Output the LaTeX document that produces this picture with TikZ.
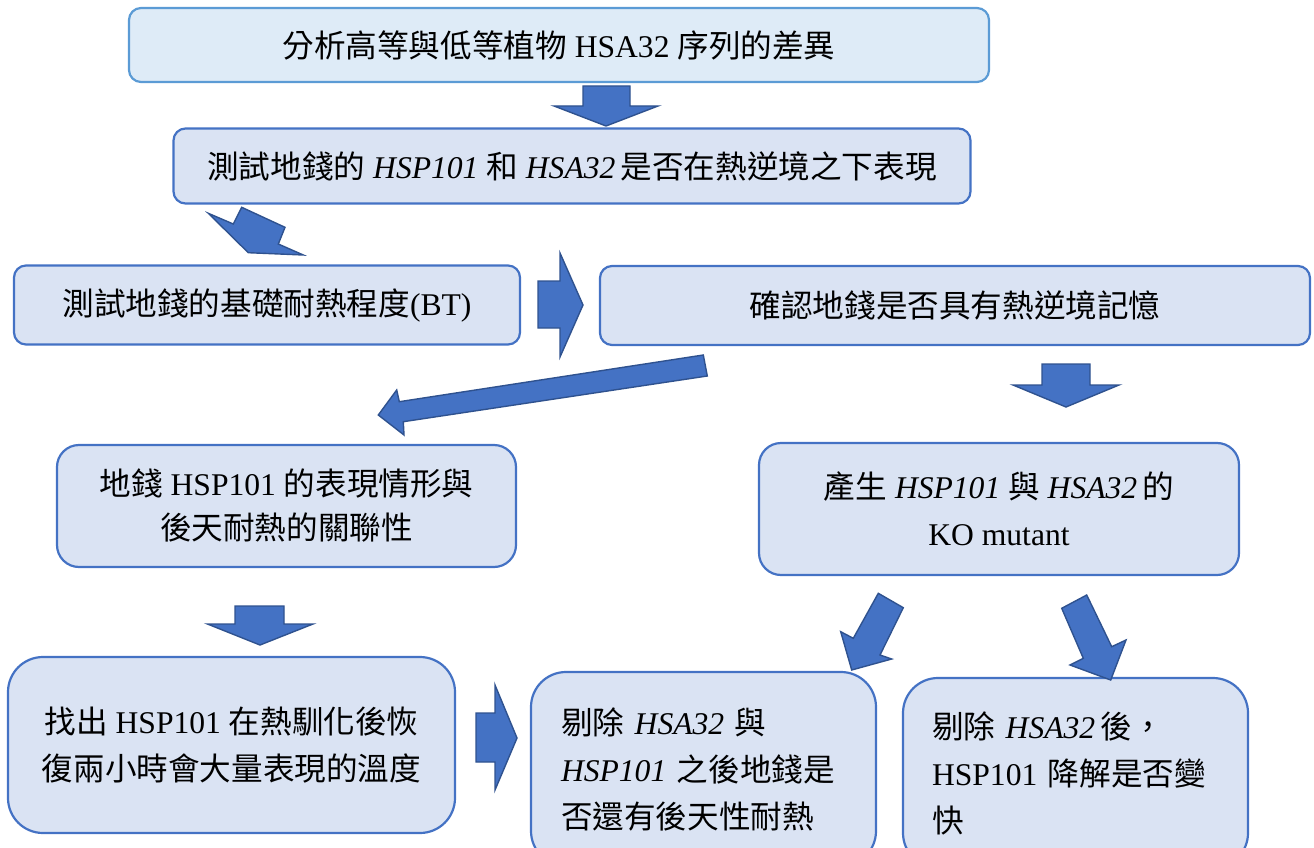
\documentclass[tikz,border=0pt]{standalone}
\usepackage{fontspec}
\setmainfont{Liberation Serif}
\newfontfamily\cjk{Noto Sans CJK TC}
\newcommand\zh[1]{{\cjk #1}}
\definecolor{boxfill}{HTML}{DAE3F3}
\definecolor{boxline}{HTML}{4472C4}
\definecolor{topfill}{HTML}{DEEBF7}
\definecolor{topline}{HTML}{5B9BD5}
\definecolor{arrfill}{HTML}{4472C4}
\definecolor{arrline}{HTML}{2F528F}
\tikzset{
  box/.style={draw=boxline, fill=boxfill, line width=2.2pt, rounded corners=12pt,
    inner sep=0pt, font=\fontsize{31.6}{47}\selectfont, align=center},
  blk/.style={draw=arrline, fill=arrfill, line width=1.4pt, line join=miter}
}
\begin{document}
\begin{tikzpicture}[x=1pt,y=-1pt]
\useasboundingbox (0,0) rectangle (1314,848);

% boxes
\node[box, draw=topline, fill=topfill, minimum width=860pt, minimum height=74pt] (b1) at (559,45)
  {\zh{分析高等與低等植物} HSA32 \zh{序列的差異}};
\node[box, minimum width=797pt, minimum height=75pt] (b2) at (572,166)
  {\zh{測試地錢的} \textit{HSP101} \zh{和} \textit{HSA32}\,\zh{是否在熱逆境之下表現}};
\node[box, minimum width=506pt, minimum height=79pt] (bt) at (267,305)
  {\zh{測試地錢的基礎耐熱程度}(BT)};
\node[box, minimum width=710pt, minimum height=79pt] (mem) at (955,305.5)
  {\zh{確認地錢是否具有熱逆境記憶}};
\node[box, rounded corners=22pt, minimum width=459pt, minimum height=122pt,
  font=\fontsize{31.6}{44}\selectfont] (rel) at (286.5,506)
  {\zh{地錢} HSP101 \zh{的表現情形與}\\\zh{後天耐熱的關聯性}};
\node[box, rounded corners=22pt, minimum width=480pt, minimum height=132pt] (ko) at (999,509)
  {\zh{產生} \textit{HSP101} \zh{與} \textit{HSA32}\,\zh{的}\\KO mutant};
\node[box, rounded corners=35pt, minimum width=447pt, minimum height=176pt] (temp) at (231.5,745)
  {\zh{找出} HSP101 \zh{在熱馴化後恢}\\\zh{復兩小時會大量表現的溫度}};
\node[box, rounded corners=35pt, minimum height=194pt, text width=285pt, inner xsep=30pt,
  align=left] (kb) at (703.5,769)
  {\zh{剔除} \textit{HSA32} \zh{與}\\\textit{HSP101} \zh{之後地錢是}\\\zh{否還有後天性耐熱}};
\node[box, rounded corners=35pt, minimum height=190pt, text width=287pt, inner xsep=29pt,
  align=left] (k9) at (1075.5,773)
  {\zh{剔除} \textit{HSA32}\,\zh{後，}\\HSP101 \zh{降解是否變}\\\zh{快}};

% block arrows
\draw[blk] (583,86) -- (630,86) -- (630,106) -- (658,106) -- (606,126) -- (554,106) -- (583,106) -- cycle;
\draw[blk] (241.7,207.3) -- (285,227.3) -- (278.3,244) -- (303.3,255) -- (248.3,252.7) -- (208.3,213.3) -- (233.3,224) -- cycle;
\draw[blk] (538,281) -- (560,281) -- (560,253) -- (583,305) -- (560,357) -- (560,328) -- (538,328) -- cycle;
\draw[blk] (703.3,355) -- (707.3,376) -- (403.3,421.7) -- (404,435) -- (378.3,415) -- (396.7,390) -- (399.3,401.7) -- cycle;
\draw[blk] (1042,364) -- (1090,364) -- (1090,385) -- (1119,385) -- (1066,407) -- (1013,385) -- (1042,385) -- cycle;
\draw[blk] (235,606) -- (284,606) -- (284,624) -- (313,624) -- (260,645) -- (207.5,624) -- (235,624) -- cycle;
\draw[blk] (476,713) -- (495,713) -- (495,685) -- (517,738) -- (495,790) -- (495,762) -- (476,762) -- cycle;
\draw[blk] (878.3,593.3) -- (903.3,607.7) -- (880,655) -- (891.7,659) -- (851.7,670) -- (840.7,631.7) -- (853.3,638.3) -- cycle;
\draw[blk] (1061.7,608.3) -- (1086.7,595) -- (1111.7,646.7) -- (1126,640) -- (1110.7,680) -- (1070,665) -- (1083.3,658.3) -- cycle;
\end{tikzpicture}
\end{document}
